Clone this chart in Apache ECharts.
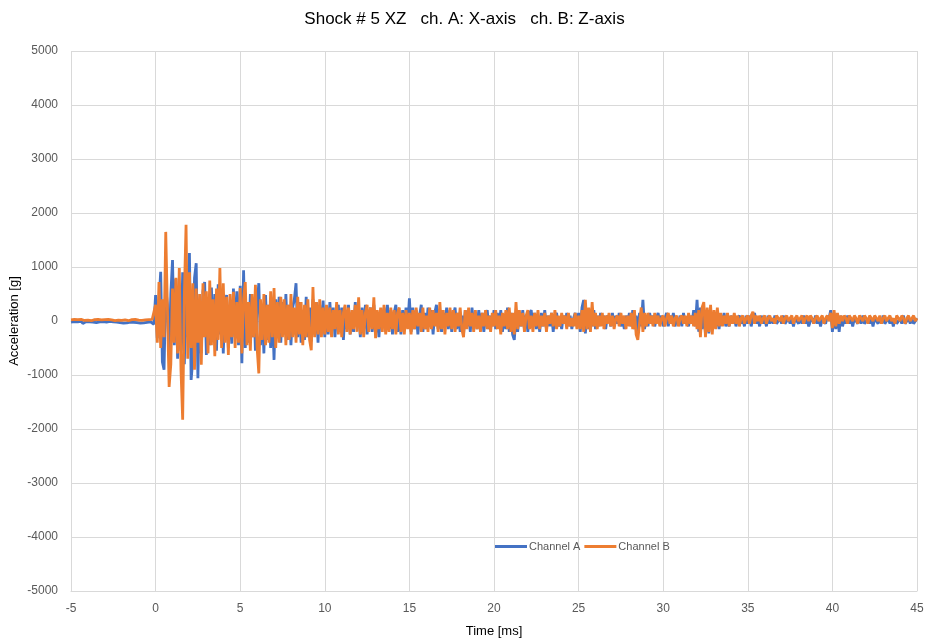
<!DOCTYPE html>
<html>
<head>
<meta charset="utf-8">
<script src="https://cdn.jsdelivr.net/npm/echarts@6/dist/echarts.min.js"></script>
<style>html,body{margin:0;padding:0;background:#fff}#c{width:929px;height:641px}</style>
</head>
<body>
<div id="c"></div>
<script>
// sampling: one value every 0.1 ms, starting at -5.0 ms
const tStart = -5.0;
const tStep = 0.1;
const xTicks = ['-5','0','5','10','15','20','25','30','35','40','45'];
const yTicks = ['-5000','-4000','-3000','-2000','-1000','0','1000','2000','3000','4000','5000'];

// Channel A (X-axis), g
const chA_pre = [-20,-35,-10,-40,-15,-30,-5,-45,-20,-10,-35,-15,-40,-20,-5,-30,-45,-15,-25,-10,-40,-20,-30,-5,-35,-15,-45,-20,-10,-30,-25,-40,-15,-35,-5,-20,-45,-25,-10,-30,-15,-40,-20,-35,-10,-25,-30,-15,-40,-60];
const chA_0 = [480,-320,350,910,-760,-900,620,300,-650,500,1130,-450,780,-700,420,-550,900,-800,650,-300,1260,-1090,-700,800,1070,-1060,400,-600,550,720,-630,300,-450,620,-350,500,-550,680,-250,450,-600,350,480,-500,300,-420,600,-300,550,-450];
const chA_5 = [650,-780,940,-500,350,-400,500,-300,420,-550,300,700,-450,250,-600,480,-350,300,-500,250,-720,400,-300,450,-400,350,-250,500,-350,300,-450,250,400,700,-300,350,-400,200,-350,450,-300,250,-380,400,-250,350,-400,300,-200,380];
const chA_10 = [-300,200,-250,350,-150,250,-300,150,300,-200,250,-350,200,-150,300,-250,150,-200,350,-100,200,-300,250,-150,300,-250,100,250,-200,300,-250,150,-300,200,-100,250,-200,300,-150,200,-250,150,300,-200,100,-250,200,-150,250,-100];
const chA_15 = [420,-200,250,-150,200,-250,100,300,-200,150,-150,250,-100,200,-250,150,300,-150,200,-200,150,-100,250,-150,200,-200,100,250,-150,150,-200,100,-250,200,-100,150,-200,250,-100,150,-150,200,-100,150,-200,100,200,-150,100,-100];
const chA_20 = [200,-150,150,-100,200,-200,100,-150,250,-200,150,-250,-350,100,-200,150,-100,200,-150,100,-200,150,200,-100,150,-150,100,-200,150,-100,200,-150,100,-100,150,-200,100,150,-100,50,-150,100,-50,150,-100,100,-150,50,150,-100];
const chA_25 = [150,-200,250,390,-230,200,-150,150,-100,200,-150,100,-100,150,-50,100,-150,100,50,-100,150,-100,100,-50,150,-100,50,-150,100,-50,150,-100,200,-150,100,-200,150,-100,390,-150,100,-100,150,-50,100,-100,50,150,-50,100];
const chA_30 = [-100,50,150,-100,100,-50,150,-100,50,-50,100,-100,150,-50,50,-100,100,-50,200,-100,390,-200,250,-150,200,-250,150,-230,200,-150,150,-100,100,-150,100,-50,150,-100,50,-100,100,-50,100,-100,50,100,-50,50,-100,100];
const chA_35 = [-50,100,-100,50,150,-50,50,-100,100,-50,50,-100,100,-50,50,-50,100,-50,0,50,-50,100,-50,0,50,-50,50,-100,50,0,-50,50,-50,100,-50,50,-100,0,50,-50,100,-50,50,-100,50,0,-50,100,50,200];
const chA_40 = [-200,150,-150,100,-200,100,-100,50,-50,100,-50,50,-100,50,0,-50,50,-50,100,-50,0,50,-50,50,-100,50,0,-50,50,-50,100,-50,0,50,-50,50,-100,50,-50,0,50,-50,100,-50,0,50,-50,50,-50,0,50];

// Channel B (Z-axis), g
const chB_pre = [20,10,30,15,25,5,30,20,10,25,15,30,5,20,25,10,30,15,20,5,25,15,30,10,20,25,5,30,15,20,10,25,20,30,5,15,25,10,30,20,15,25,10,30,20,5,25,15,30,40];
const chB_0 = [300,-400,720,-500,400,-300,1650,200,-1220,-800,600,-400,800,-600,980,-900,-1830,500,1780,-700,900,-500,700,-900,600,-400,500,-810,700,-300,550,-600,750,-450,400,-650,600,-350,980,-500,700,-400,450,-630,500,-300,540,-500,350,-400];
const chB_5 = [610,-600,400,720,-450,350,-550,500,-300,670,-500,-970,400,-350,500,-450,300,-400,550,-300,610,-500,350,-400,450,-300,400,-450,300,-350,500,-300,250,-400,450,-250,350,-450,300,-300,400,-350,-540,630,-300,350,-250,400,-300,250];
const chB_10 = [-250,300,-200,250,-300,200,-150,350,-250,200,-300,150,300,-200,250,-250,200,-150,300,-200,440,-250,200,-300,150,300,-200,250,-150,440,-320,200,-150,250,-200,300,-250,150,-200,250,-150,200,-250,150,250,-200,150,-250,200,-150];
const chB_15 = [150,-250,200,-150,250,-100,150,-200,250,-150,100,-200,250,-150,200,-100,150,-200,350,-150,200,-250,150,-100,250,-150,200,-200,150,-100,250,-150,-300,200,-150,250,-100,150,-200,200,-150,100,-200,150,-100,200,-150,100,-200,150];
const chB_20 = [-100,200,-150,100,-250,150,-100,200,-150,250,-200,150,-250,350,-150,200,-100,150,-200,100,200,-150,100,-200,150,-100,200,-150,100,-100,150,-200,100,-50,150,-100,200,-150,100,-100,150,-50,100,-150,150,-100,50,-100,150,-150];
const chB_25 = [100,-150,200,-200,390,-150,250,-200,350,-100,150,-150,100,-100,150,-150,100,-50,150,-100,100,-150,50,100,-100,150,-50,100,-150,100,-100,150,-150,200,-250,-350,-380,250,-200,150,-100,150,-50,100,-100,150,-50,100,-100,50];
const chB_30 = [100,-100,50,150,-50,100,-100,50,100,-100,50,100,-50,100,-100,150,-50,100,-100,150,-150,200,-300,250,350,-300,250,-200,300,-250,200,-150,250,-100,150,-100,100,-50,150,-100,100,-50,150,-50,100,-100,50,100,-50,50];
const chB_35 = [100,-50,100,170,-50,100,0,100,-50,50,100,-50,50,100,0,50,-50,100,50,0,100,-50,50,100,0,50,100,-50,50,100,0,50,100,-50,50,100,0,100,50,-50,50,100,0,50,100,-50,50,100,0,150];
const chB_40 = [-130,200,-100,150,-50,100,0,100,50,-50,100,50,0,100,50,-50,100,50,0,100,50,-50,100,50,0,100,50,0,100,-50,50,100,0,50,100,0,50,-50,100,50,0,100,50,-50,50,100,0,50,100,0,50];

const chA = [].concat(chA_pre, chA_0, chA_5, chA_10, chA_15, chA_20, chA_25, chA_30, chA_35, chA_40);
const chB = [].concat(chB_pre, chB_0, chB_5, chB_10, chB_15, chB_20, chB_25, chB_30, chB_35, chB_40);
const toPairs = arr => arr.map((v, i) => [Math.round((tStart + i * tStep) * 10) / 10, v]);

const font = '"Liberation Sans", "DejaVu Sans", sans-serif';
const chart = echarts.init(document.getElementById('c'), null, {renderer: 'canvas'});
chart.setOption({
  animation: false,
  backgroundColor: '#ffffff',
  title: {
    text: 'Shock # 5 XZ   ch. A: X-axis   ch. B: Z-axis',
    left: 'center', top: 6,
    textStyle: {fontFamily: font, fontSize: 17, fontWeight: 'normal', color: '#000000'}
  },
  legend: {
    left: 490, top: 536,
    itemWidth: 32, itemHeight: 3, itemGap: 4, icon: 'rect',
    textStyle: {fontFamily: font, fontSize: 11, color: '#595959', padding: [0,0,0,-3]},
    data: ['Channel A', 'Channel B']
  },
  grid: {left: 71, right: 12, top: 51, bottom: 50, containLabel: false, outerBoundsMode: 'none'},
  xAxis: {
    type: 'value', min: -5, max: 45, interval: 5,
    name: 'Time [ms]', nameLocation: 'middle', nameGap: 34,
    nameTextStyle: {fontFamily: font, fontSize: 13, color: '#000000'},
    axisLine: {show: true, onZero: false, lineStyle: {color: '#d9d9d9', width: 1}},
    axisTick: {show: false},
    axisLabel: {fontFamily: font, fontSize: 12, color: '#595959', margin: 12,
      formatter: v => xTicks[Math.round((v + 5) / 5)]},
    splitLine: {show: true, lineStyle: {color: '#d9d9d9', width: 1}}
  },
  yAxis: {
    type: 'value', min: -5000, max: 5000, interval: 1000,
    name: 'Acceleration [g]', nameLocation: 'middle', nameGap: 50, nameRotate: 90,
    nameMoveOverlap: false,
    nameTextStyle: {fontFamily: font, fontSize: 13, color: '#000000'},
    axisLine: {show: false},
    axisTick: {show: false},
    axisLabel: {fontFamily: font, fontSize: 12, color: '#595959', margin: 13,
      formatter: v => yTicks[Math.round((v + 5000) / 1000)]},
    splitLine: {show: true, lineStyle: {color: '#d9d9d9', width: 1}}
  },
  series: [
    {name: 'Channel A', type: 'line', data: toPairs(chA), showSymbol: false, symbol: 'none',
      sampling: null, lineStyle: {color: '#4472C4', width: 2.8}, itemStyle: {color: '#4472C4'}, z: 2},
    {name: 'Channel B', type: 'line', data: toPairs(chB), showSymbol: false, symbol: 'none',
      sampling: null, lineStyle: {color: '#ED7D31', width: 2.8}, itemStyle: {color: '#ED7D31'}, z: 3}
  ]
});
</script>
</body>
</html>
